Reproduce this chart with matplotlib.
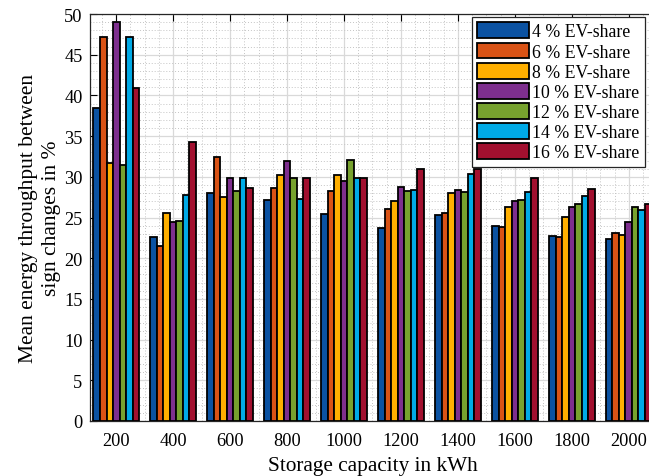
import numpy as np
import matplotlib
matplotlib.use('Agg')
import matplotlib.pyplot as plt
from matplotlib.ticker import MultipleLocator

# storage sizes (kWh) and mean throughput per EV-share
capacities = ['200', '400', '600', '800', '1000', '1200', '1400', '1600', '1800', '2000']
shares = ['4 % EV-share', '6 % EV-share', '8 % EV-share', '10 % EV-share',
          '12 % EV-share', '14 % EV-share', '16 % EV-share']

ev4 = [38.5, 22.6, 28.0, 27.2, 25.4, 23.7, 25.3, 23.9, 22.7, 22.3]
ev6 = [47.2, 21.5, 32.4, 28.6, 28.3, 26.0, 25.5, 23.8, 22.6, 23.1]
ev8 = [31.7, 25.6, 27.5, 30.2, 30.2, 27.0, 28.0, 26.3, 25.1, 22.8]
ev10 = [49.0, 24.4, 29.9, 31.9, 29.5, 28.7, 28.4, 27.0, 26.3, 24.5]
ev12 = [31.4, 24.6, 28.2, 29.8, 32.1, 28.2, 28.1, 27.2, 26.6, 26.3]
ev14 = [47.2, 27.8, 29.9, 27.3, 29.8, 28.4, 30.4, 28.1, 27.6, 25.9]
ev16 = [40.9, 34.3, 28.6, 29.9, 29.9, 31.0, 31.0, 29.9, 28.5, 26.6]
series = [ev4, ev6, ev8, ev10, ev12, ev14, ev16]

colors = ['#0B52A2', '#D95316', '#FFAF00', '#7E2F8E', '#77A22E', '#00AAE6', '#A2102F']

plt.rcParams['font.family'] = ['Liberation Serif', 'DejaVu Serif']

fig = plt.figure(figsize=(6.49, 4.77), dpi=100)
# axes runs slightly past the right figure edge, as in the original crop
ax = fig.add_axes([89.5 / 649, 55 / 477, 566 / 649, 407 / 477])

x = np.arange(1, len(capacities) + 1)
w = 0.8 / len(series)
for i, (vals, c, lab) in enumerate(zip(series, colors, shares)):
    ax.bar(x - 0.4 + w * (i + 0.5), vals, width=w, color=c, edgecolor='black',
           linewidth=1.3, label=lab, zorder=3)

ax.set_xlim(0.53, 10.47)
ax.set_ylim(0, 50)
ax.set_xticks(x)
ax.set_xticklabels(capacities)
ax.yaxis.set_major_locator(MultipleLocator(5))
ax.yaxis.set_minor_locator(MultipleLocator(1))
ax.xaxis.set_minor_locator(MultipleLocator(0.25))
ax.grid(True, which='major', color='#d9d9d9', linewidth=0.9, zorder=0)
ax.grid(True, which='minor', color='#c4c4c4', linestyle=(0, (1, 2)), linewidth=0.7, zorder=0)
ax.set_axisbelow(True)

ax.tick_params(axis='both', which='major', direction='in', labelsize=13.2, length=5,
               top=True, right=True)
ax.tick_params(axis='y', which='major', pad=5)
ax.tick_params(axis='x', which='major', pad=8)
ax.tick_params(axis='both', which='minor', length=0)
for s in ax.spines.values():
    s.set_color('#262626')
    s.set_linewidth(0.9)

ax.set_xlabel('Storage capacity in kWh', fontsize=15.3, labelpad=5)
ax.set_ylabel('Mean energy throughput between\nsign changes in %', fontsize=15.5,
              linespacing=1.3)
ax.yaxis.set_label_coords(-0.05, 0.5)

leg = ax.legend(loc='upper right', bbox_to_anchor=(645 / 649, 1 - 18 / 477),
                bbox_transform=fig.transFigure, fontsize=12.8,
                handlelength=2.9, handleheight=1.0, handletextpad=0.2, labelspacing=0.12,
                borderpad=0.3, frameon=True, fancybox=False, edgecolor='#262626',
                framealpha=1.0, borderaxespad=0)
leg.get_frame().set_linewidth(0.9)

fig.savefig('out.png', dpi=100)
